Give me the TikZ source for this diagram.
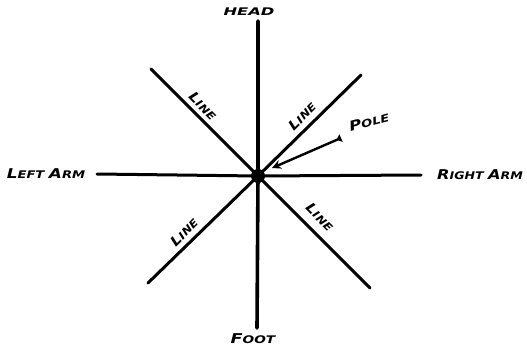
\documentclass[tikz,border=0pt]{standalone}
\usepackage{fontspec}
\setmainfont{DejaVu Sans}
\usetikzlibrary{arrows.meta}
\newcommand\BL[1]{{\fontsize{13.5}{13.5}\selectfont #1}}
\newcommand\hand[2][1.45]{\scalebox{#1}[1]{\bfseries\itshape\fontsize{10.5}{10.5}\selectfont #2}}
\tikzset{
  stroke/.style={line width=3pt,line cap=round},
  lbl/.style={inner sep=0pt},
}
\begin{document}
\begin{tikzpicture}[x=1pt,y=-1pt]
\useasboundingbox (0,0) rectangle (527,346);
\node[circle,fill=black,inner sep=0pt,minimum size=14pt] (c) at (258,176) {};
\coordinate (top) at (258,21);
\coordinate (bot) at (257,328);
\coordinate (lft) at (97,174);
\coordinate (rgt) at (421,175);
\coordinate (ul) at (151,69);
\coordinate (ur) at (361,75);
\coordinate (ll) at (148,283);
\coordinate (lr) at (370,288);
\draw[stroke,line width=3.6pt] (top) -- (c.center) -- (bot);
\draw[stroke] (lft) -- (c.center) -- (rgt);
\draw[stroke] (ul) -- (c.center) -- (lr);
\draw[stroke] (ll) -- (c.center) -- (ur);
\node[lbl] (head) at (249,12) {\hand[1.55]{HEAD}};
\node[lbl] (foot) at (253,339) {\hand[1.3]{\BL{F}OOT}};
\node[lbl] (larm) at (46,174) {\hand[1.25]{\BL{L}EFT \BL{A}RM}};
\node[lbl] (rarm) at (480,175) {\hand[1.2]{\BL{R}IGHT \BL{A}RM}};
\node[lbl,rotate=15] (pole) at (369,122) {\hand[1.25]{\BL{P}OLE}};
\node[lbl,rotate=-45] (l1) at (203,106) {\hand[1.15]{\BL{L}INE}};
\node[lbl,rotate=45] (l2) at (302,116) {\hand[1.15]{\BL{L}INE}};
\node[lbl,rotate=45] (l3) at (184,232) {\hand[1.15]{\BL{L}INE}};
\node[lbl,rotate=-45] (l4) at (320,217) {\hand[1.15]{\BL{L}INE}};
\coordinate (tail) at (341,138);
\coordinate (tip) at (272,168);
\draw[line width=2.4pt,{Triangle[reversed,length=5pt,width=8pt]}-{Stealth[length=9pt,width=9pt]}] (tail) -- (tip);
\end{tikzpicture}
\end{document}
